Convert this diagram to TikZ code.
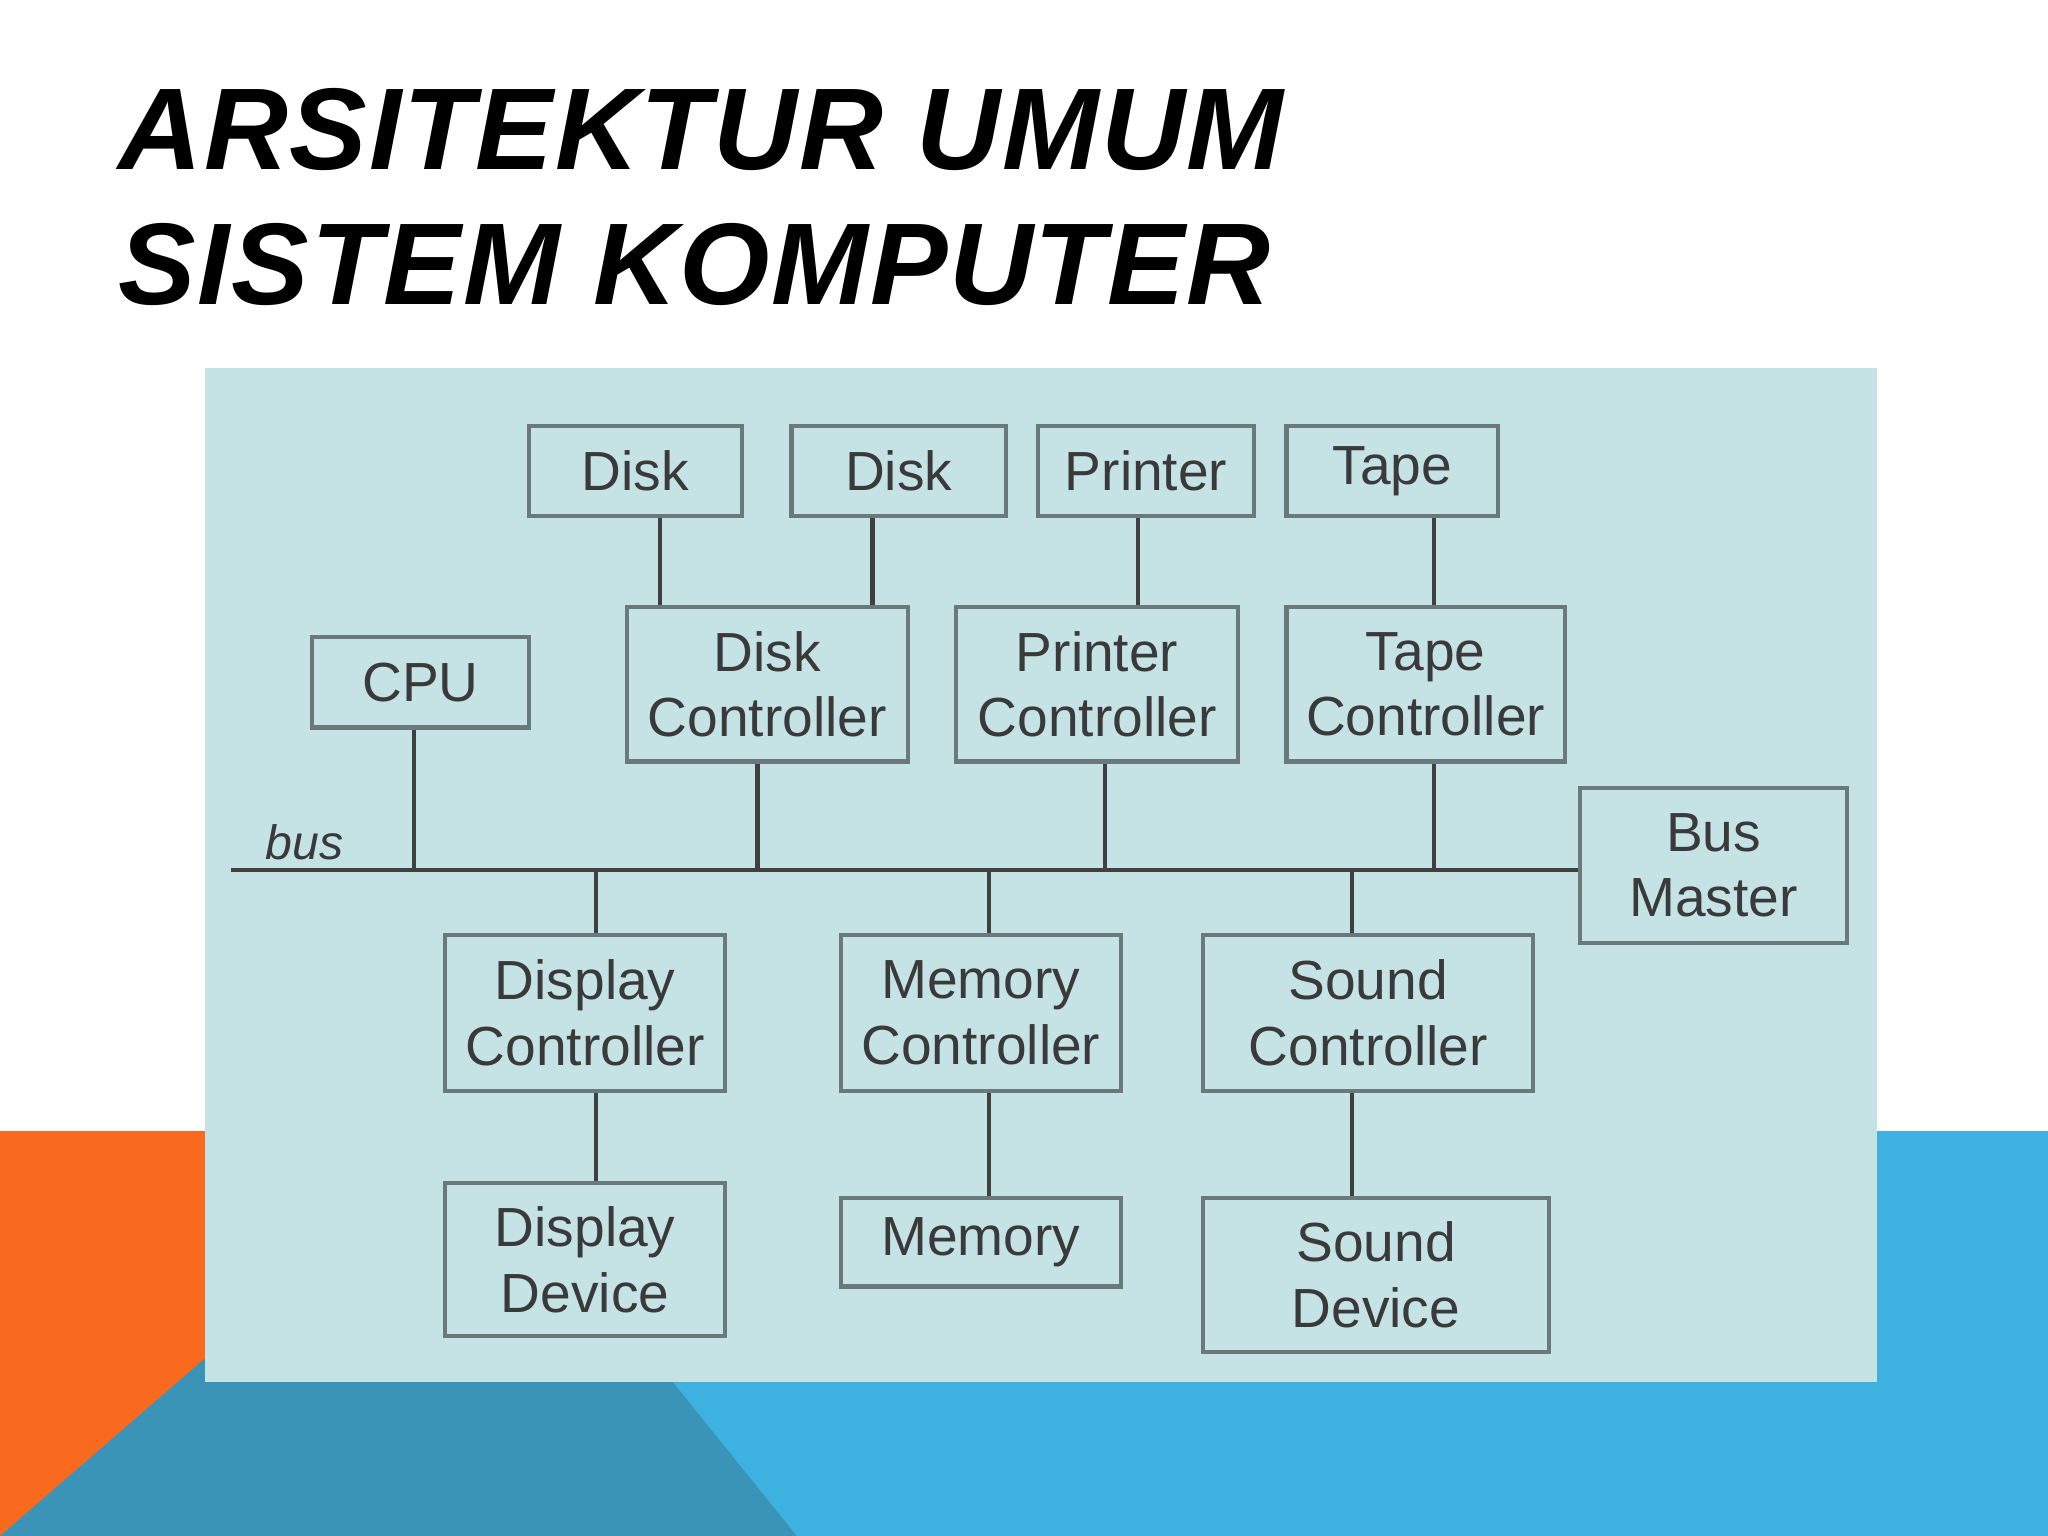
\documentclass[tikz,border=0pt]{standalone}
\usepackage{fontspec}
\setmainfont{Liberation Sans}
\newfontfamily\titlefont[LetterSpace=1.5]{Liberation Sans}
\definecolor{panel}{HTML}{C5E3E5}
\definecolor{orng}{HTML}{F96A1E}
\definecolor{lblue}{HTML}{3DB2E0}
\definecolor{dblue}{HTML}{3A94B8}
\definecolor{edge}{HTML}{6A7A7C}
\definecolor{txt}{HTML}{3A3A3A}
\begin{document}
\begin{tikzpicture}[x=0.01cm,y=-0.01cm,
  box/.style={draw=edge,line width=0.9pt,inner sep=0pt,text=txt,align=center,
    font=\fontsize{12pt}{14.3pt}\selectfont},
  wire/.style={draw=black!75,line width=0.9pt}]
\useasboundingbox (0,0) rectangle (1568,1176);
\fill[white] (0,0) rectangle (1568,1176);
\fill[orng] (0,866) rectangle (157,1176);
\fill[lblue] (1437,866) rectangle (1568,1176);
\fill[lblue] (157,1058) rectangle (1437,1176);
\fill[dblue] (0,1176) -- (157,1040) -- (157,1058) -- (515,1058) -- (610,1176) -- cycle;
\fill[panel] (157,282) rectangle (1437,1058);
\tikzset{ttl/.style={anchor=base west,inner sep=0pt,font=\titlefont\bfseries\itshape\fontsize{25.3pt}{30pt}\selectfont}}
\node[ttl] (t1) at (90,130) {ARSITEKTUR UMUM};
\node[ttl] (t2) at (90,233) {SISTEM KOMPUTER};
\newcommand{\bx}[6]{\node[box,minimum width={(#4-#2)*0.01cm},minimum height={(#5-#3)*0.01cm}] (#1) at ({(#2+#4)/2},{(#3+#5)/2}) {#6};}
\bx{d1}{405}{326}{568}{395}{Disk}
\bx{d2}{606}{326}{770}{395}{Disk}
\bx{pr}{795}{326}{960}{395}{Printer}
\bx{tp}{985}{326}{1147}{395}{Tape}
\bx{cpu}{239}{488}{405}{557}{CPU}
\bx{dc}{480}{465}{695}{583}{Disk\\Controller}
\bx{pc}{732}{465}{948}{583}{Printer\\Controller}
\bx{tc}{985}{465}{1198}{583}{Tape\\Controller}
\bx{bm}{1210}{603}{1414}{722}{Bus\\Master}
\bx{dic}{341}{716}{555}{835}{Display\\Controller}
\bx{mc}{644}{716}{858}{835}{Memory\\Controller}
\bx{sc}{921}{716}{1174}{835}{Sound\\Controller}
\bx{dd}{341}{906}{555}{1023}{Display\\Device}
\bx{mem}{644}{917}{858}{985}{Memory}
\bx{sd}{921}{917}{1186}{1035}{Sound\\Device}
\coordinate (bs) at (177,666);
\draw[wire] (bs) -- (bm.west |- bs);
\node[text=txt,font=\itshape\fontsize{10.5pt}{13pt}\selectfont] (bl) at (233,645) {bus};
\draw[wire] (d1.south -| 505,0) -- (dc.north -| 505,0);
\draw[wire] (d2.south -| 668,0) -- (dc.north -| 668,0);
\draw[wire] (pr.south -| 871,0) -- (pc.north -| 871,0);
\draw[wire] (tp.south -| 1098,0) -- (tc.north -| 1098,0);
\draw[wire] (cpu.south -| 317,0) -- (bs -| 317,0);
\draw[wire] (dc.south -| 580,0) -- (bs -| 580,0);
\draw[wire] (pc.south -| 846,0) -- (bs -| 846,0);
\draw[wire] (tc.south -| 1098,0) -- (bs -| 1098,0);
\draw[wire] (bs -| 456,0) -- (dic.north -| 456,0);
\draw[wire] (bs -| 757,0) -- (mc.north -| 757,0);
\draw[wire] (bs -| 1035,0) -- (sc.north -| 1035,0);
\draw[wire] (dic.south -| 456,0) -- (dd.north -| 456,0);
\draw[wire] (mc.south -| 757,0) -- (mem.north -| 757,0);
\draw[wire] (sc.south -| 1035,0) -- (sd.north -| 1035,0);
\end{tikzpicture}
\end{document}
